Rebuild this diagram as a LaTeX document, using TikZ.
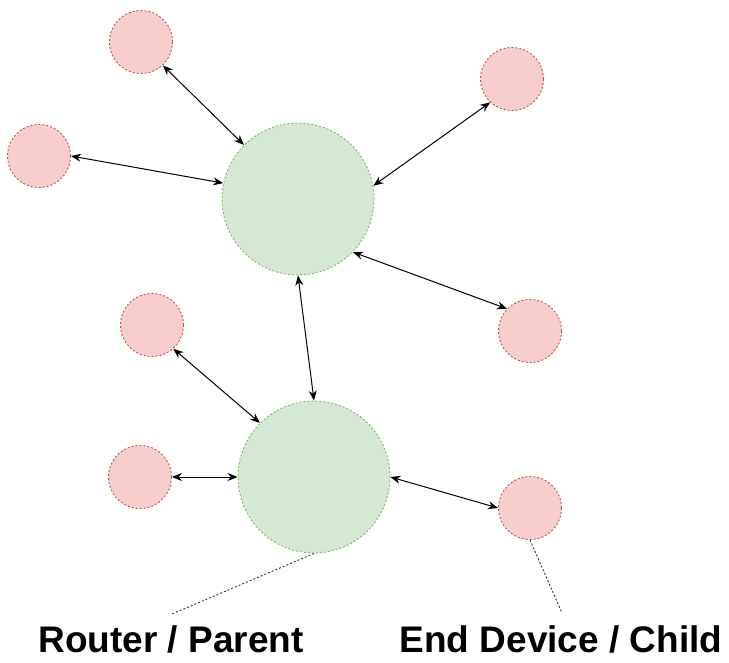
\documentclass[tikz,border=0pt]{standalone}
\usepackage{fontspec}
\setmainfont{Liberation Sans}
\usetikzlibrary{arrows.meta}
\definecolor{pinkfill}{HTML}{F8CECC}
\definecolor{pinkline}{HTML}{B85450}
\definecolor{greenfill}{HTML}{D5E8D4}
\definecolor{greenline}{HTML}{82B366}
\begin{document}
\begin{tikzpicture}[x=1pt,y=-1pt,
  child/.style={circle,draw=pinkline,fill=pinkfill,dash pattern=on 2pt off 2pt,line width=0.9pt,minimum size=63pt,inner sep=0pt},
  router/.style={circle,draw=greenline,fill=greenfill,dash pattern=on 2pt off 2pt,line width=0.9pt,minimum size=152pt,inner sep=0pt},
  link/.style={{Stealth[length=10pt,width=8pt]}-{Stealth[length=10pt,width=8pt]},line width=1pt,black},
  lbl/.style={font=\bfseries\fontsize{37}{40}\selectfont,inner sep=0pt,anchor=base},
  note/.style={dash pattern=on 2pt off 2pt,line width=0.9pt,black!80}]
\useasboundingbox (0,0) rectangle (729,663);
\node[router] (r1) at (298,199) {};
\node[router] (r2) at (314,477) {};
\node[child] (c1) at (141,42) {};
\node[child] (c2) at (512,79) {};
\node[child] (c3) at (39,156) {};
\node[child] (c4) at (530,331) {};
\node[child] (c5) at (152,325) {};
\node[child] (c6) at (140,477) {};
\node[child] (c7) at (530,508) {};
\draw[link] (c1.-47) -- (r1.135);
\draw[link] (c3.0) -- (r1.168);
\draw[link] (c2.-133) -- (r1.10);
\draw[link] (r1.-44) -- (c4.136);
\draw[link] (r1.-90) -- (r2.90);
\draw[link] (c5.-48) -- (r2.135);
\draw[link] (c6.0) -- (r2.180);
\draw[link] (r2.0) -- (c7.180);
\node[lbl] (l1) at (171,652) {Router / Parent};
\node[lbl] (l2) at (561,652) {End Device / Child};
\coordinate (e1) at (172,614);
\coordinate (e2) at (562,613);
\draw[note] (r2.south) -- (e1);
\draw[note] (c7.south) -- (e2);
\end{tikzpicture}
\end{document}
